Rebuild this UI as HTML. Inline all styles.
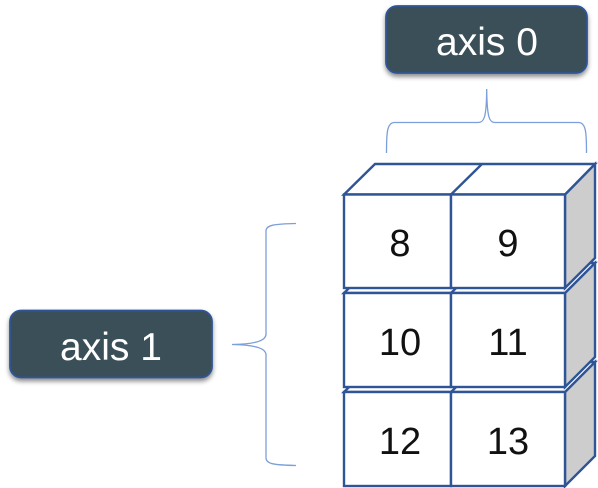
<!DOCTYPE html>
<html lang="en">
<head>
<meta charset="utf-8">
<title>Array axes diagram</title>
<style>
html,body{margin:0;padding:0;background:#fff;width:598px;height:488px;overflow:hidden}
svg{display:block}
text{font-family:"Liberation Sans",sans-serif}
.edge{fill:#fff;stroke:#2f5597;stroke-width:2.4;stroke-linejoin:miter}
.side{fill:#cdcdcd;stroke:#2f5597;stroke-width:2.4}
.div{stroke:#2f5597;stroke-width:2.4}
.num{font-size:38px;fill:#111;text-anchor:middle}
.lab{font-size:39px;fill:#fff;text-anchor:middle}
.box{fill:#3a5059;stroke:#2f5597;stroke-width:1.8}
.brace{fill:none;stroke:#7c9fd9;stroke-width:1.3}
</style>
</head>
<body>
<svg width="598" height="488" viewBox="0 0 598 488" xmlns="http://www.w3.org/2000/svg">
<defs>
<filter id="sh" x="-10%" y="-20%" width="120%" height="150%"><feDropShadow dx="0" dy="3" stdDeviation="2.5" flood-color="#000" flood-opacity=".45"/></filter>
</defs>
<rect width="598" height="488" fill="#fff"/>

<g>
<rect class="box" x="386" y="6" width="201" height="67" rx="11" filter="url(#sh)"/>
<text class="lab" x="487" y="55">axis 0</text>
</g>
<path class="brace" d="M386.500 153 C386.500 133 387 123 394 122.500 L478 122.500 C484 122.500 486.500 118 486.700 89 C487 118 489.500 122.500 495 122.500 L579 122.500 C586 123 586.500 133 586.500 153"/>

<g>
<rect class="box" x="10" y="310.500" width="202" height="67" rx="11" filter="url(#sh)"/>
<text class="lab" x="111" y="360">axis 1</text>
</g>
<path class="brace" d="M296 223.500 C274 224 266 225 266 231 L266 334 C266 340 258 344 232 344.500 C258 345 266 349 266 355 L266 458 C266 464 274 465 296 465.500"/>

<g>
<polygon class="side" points="565,392 595,362 595,456 565,486"/>
<polygon class="edge" points="344,392 375,362 595,362 565,392"/>
<line class="div" x1="451" y1="392" x2="482" y2="362"/>
</g>
<g>
<polygon class="side" points="565,293 595,263 595,357 565,387"/>
<polygon class="edge" points="344,293 375,263 595,263 565,293"/>
<line class="div" x1="451" y1="293" x2="482" y2="263"/>
</g>
<g>
<polygon class="side" points="565,194.500 595,164 595,258 565,288"/>
<polygon class="edge" points="344,194.500 375,164 595,164 565,194.500"/>
<line class="div" x1="451" y1="194.500" x2="482" y2="164"/>
</g>

<rect class="edge" x="344" y="392" width="107" height="94"/>
<rect class="edge" x="451" y="392" width="114" height="94"/>
<rect class="edge" x="344" y="293" width="107" height="94"/>
<rect class="edge" x="451" y="293" width="114" height="94"/>
<rect class="edge" x="344" y="194.500" width="107" height="93.500"/>
<rect class="edge" x="451" y="194.500" width="114" height="93.500"/>

<text class="num" x="400" y="256">8</text>
<text class="num" x="508" y="256">9</text>
<text class="num" x="400" y="355">10</text>
<text class="num" x="508" y="355">11</text>
<text class="num" x="400" y="454">12</text>
<text class="num" x="508" y="454">13</text>
</svg>
</body>
</html>
